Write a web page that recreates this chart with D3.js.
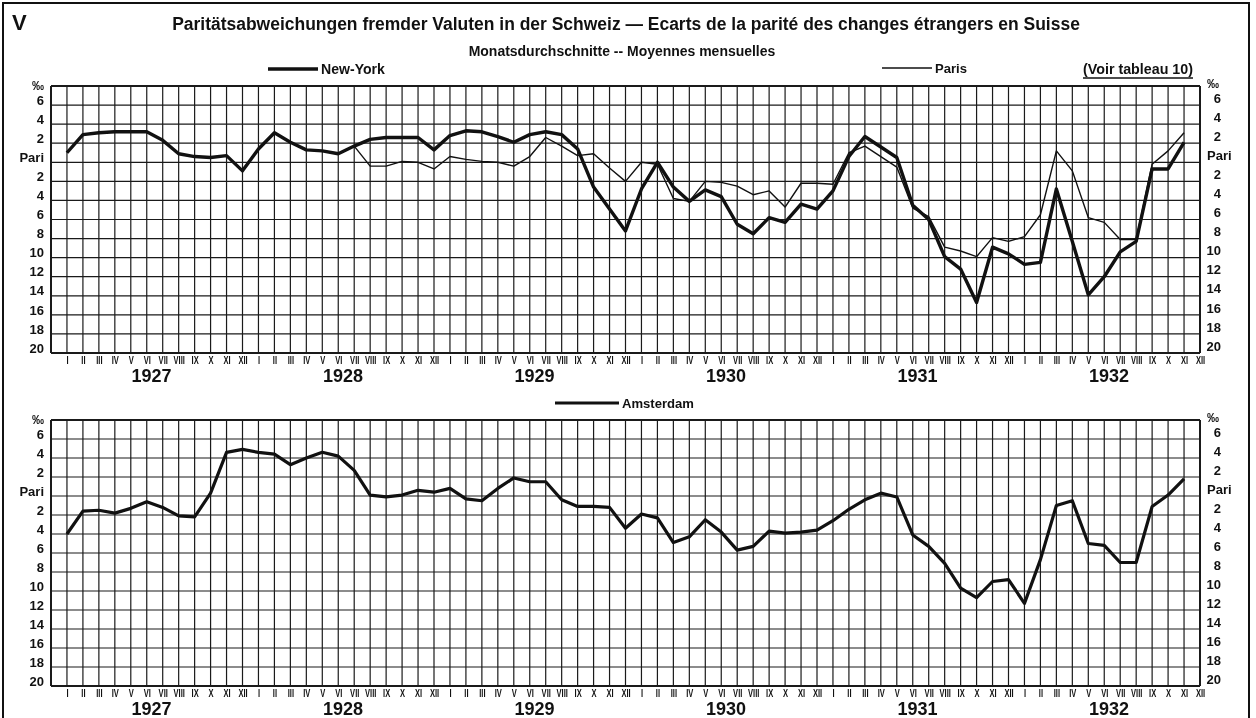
<!DOCTYPE html>
<html>
<head>
<meta charset="utf-8"/>
<script src="https://cdn.jsdelivr.net/npm/d3@7"></script>
<style>
  body { margin: 0; background: #fff; }
  svg { filter: grayscale(100%); }
  text { font-family: "Liberation Sans", Arial, sans-serif; fill: #111; }
</style>
</head>
<body>
<script>
// month / year labels
var months = ["I","II","III","IV","V","VI","VII","VIII","IX","X","XI","XII"];
var years = [1927, 1928, 1929, 1930, 1931, 1932];
// deviation from parity in per mille (above parity positive), monthly I 1927 .. XI 1932
var newYork = [
  1.0, 2.9, 3.1, 3.2, 3.2, 3.2, 2.3, 0.9, 0.6, 0.5, 0.7, -0.9,
  1.4, 3.1, 2.1, 1.3, 1.2, 0.9, 1.7, 2.4, 2.6, 2.6, 2.6, 1.3,
  2.8, 3.3, 3.2, 2.7, 2.1, 2.9, 3.2, 2.9, 1.4, -2.6, -4.9, -7.2,
  -2.8, 0.0, -2.6, -4.1, -2.9, -3.6, -6.5, -7.5, -5.8, -6.3, -4.4, -4.9,
  -3.0, 0.6, 2.7, 1.6, 0.5, -4.5, -6.0, -9.9, -11.2, -14.7, -8.9, -9.6,
  -10.7, -10.5, -2.8, -8.3, -13.9, -12.0, -9.4, -8.3, -0.7, -0.7, 2.1
];
var paris = [
  null, null, null, null, null, null, null, null, null, null, null, null,
  null, null, null, null, null, null, 1.7, -0.4, -0.4, 0.1, 0.0, -0.7,
  0.6, 0.3, 0.1, 0.0, -0.4, 0.6, 2.6, 1.7, 0.7, 0.9, -0.6, -2.0,
  0.0, -0.2, -3.8, -4.1, -2.0, -2.1, -2.5, -3.4, -3.0, -4.7, -2.2, -2.2,
  -2.3, 1.0, 1.7, 0.6, -0.5, -4.8, -5.7, -8.9, -9.3, -9.9, -7.9, -8.3,
  -7.8, -5.5, 1.2, -0.9, -5.8, -6.3, -8.1, -8.1, -0.2, 1.2, 3.1
];
var amsterdam = [
  -4.0, -1.6, -1.5, -1.8, -1.3, -0.6, -1.2, -2.1, -2.2, 0.3, 4.6, 4.9,
  4.6, 4.4, 3.3, 4.0, 4.6, 4.2, 2.7, 0.1, -0.1, 0.1, 0.6, 0.4,
  0.8, -0.3, -0.5, 0.8, 1.9, 1.5, 1.5, -0.4, -1.1, -1.1, -1.2, -3.4,
  -1.9, -2.3, -4.9, -4.3, -2.5, -3.8, -5.7, -5.3, -3.7, -3.9, -3.8, -3.6,
  -2.6, -1.4, -0.4, 0.3, -0.1, -4.1, -5.3, -7.1, -9.7, -10.7, -9.0, -8.8,
  -11.3, -6.7, -1.0, -0.5, -5.0, -5.2, -7.0, -7.0, -1.1, 0.1, 1.8
];
var yTicks = [6, 4, 2, 0, -2, -4, -6, -8, -10, -12, -14, -16, -18, -20];

var W = 1256, H = 718;
var svg = d3.select("body").append("svg").attr("width", W).attr("height", H);

// frame
svg.append("path")
  .attr("d", "M3,720V3H1249V720")
  .attr("fill", "none").attr("stroke", "#111").attr("stroke-width", 2);

function fit(sel, w) {
  var l = sel.node().getComputedTextLength();
  sel.attr("font-size", parseFloat(sel.attr("font-size")) * w / l);
  return sel;
}

svg.append("text").attr("x", 12).attr("y", 30)
  .attr("font-size", 22).attr("font-weight", "bold").text("V");
fit(svg.append("text").attr("x", 626).attr("y", 30).attr("text-anchor", "middle")
  .attr("font-size", 16).attr("font-weight", "bold")
  .text("Paritätsabweichungen fremder Valuten in der Schweiz \u2014 Ecarts de la parité des changes étrangers en Suisse"), 908);
fit(svg.append("text").attr("x", 622).attr("y", 56).attr("text-anchor", "middle")
  .attr("font-size", 12).attr("font-weight", "bold")
  .text("Monatsdurchschnitte -- Moyennes mensuelles"), 307);

var x = d3.scaleLinear().domain([-1, 71]).range([51, 1200]);
var idx = d3.range(73).map(function(i) { return i - 1; });

function legend(x1, x2, y, w, label, tw) {
  svg.append("line").attr("x1", x1).attr("x2", x2).attr("y1", y).attr("y2", y)
    .attr("stroke", "#111").attr("stroke-width", w);
  fit(svg.append("text").attr("x", x2 + 3).attr("y", y + 5)
    .attr("font-size", 12).attr("font-weight", "bold").text(label), tw);
}

function panel(top, bottom, series) {
  var y = d3.scaleLinear().domain([8, -20]).range([top, bottom]);
  var g = svg.append("g");

  // grid
  g.selectAll("line.h").data(d3.range(-20, 9, 2)).enter().append("line")
    .attr("x1", x(-1)).attr("x2", x(71))
    .attr("y1", function(d) { return y(d); }).attr("y2", function(d) { return y(d); })
    .attr("stroke", "#1a1a1a")
    .attr("stroke-width", function(d) { return (d == 8 || d == -20) ? 2 : 1.2; });
  g.selectAll("line.v").data(idx).enter().append("line")
    .attr("x1", function(d) { return x(d); }).attr("x2", function(d) { return x(d); })
    .attr("y1", y(8)).attr("y2", y(-20))
    .attr("stroke", "#1a1a1a")
    .attr("stroke-width", function(d) { return (d == -1 || d == 71) ? 2 : 1.2; });

  // y labels both sides
  var fmt = function(d) { return d == 0 ? "Pari" : Math.abs(d); };
  var left = g.append("g").attr("transform", "translate(44,-5)")
    .call(d3.axisLeft(y).tickValues(yTicks).tickFormat(fmt).tickSize(0).tickPadding(0));
  var right = g.append("g").attr("transform", "translate(1207,-7)")
    .call(d3.axisRight(y).tickValues(yTicks).tickFormat(fmt).tickSize(0).tickPadding(0));
  [left, right].forEach(function(a) {
    a.select(".domain").remove();
    a.selectAll("text").attr("font-size", 13).attr("font-weight", "bold")
      .attr("font-family", "Liberation Sans, Arial, sans-serif").attr("fill", "#111");
  });
  right.selectAll("text").filter(function(d) { return d != 0; })
    .attr("text-anchor", "end").attr("x", 14);
  g.append("text").attr("x", 44).attr("y", y(8) + 4).attr("text-anchor", "end")
    .attr("font-size", 12).attr("font-weight", "bold").text("\u2030");
  g.append("text").attr("x", 1207).attr("y", y(8) + 2)
    .attr("font-size", 12).attr("font-weight", "bold").text("\u2030");

  // month labels
  var mAxis = g.append("g").attr("transform", "translate(0," + (bottom + 3) + ")")
    .call(d3.axisBottom(x).tickValues(d3.range(72))
      .tickFormat(function(d) { return months[d % 12]; }).tickSize(0).tickPadding(0));
  mAxis.select(".domain").remove();
  mAxis.selectAll("text").attr("font-size", 10.5).attr("font-weight", "bold")
    .attr("font-family", "DejaVu Sans Condensed, sans-serif").attr("fill", "#111")
    .attr("transform", "scale(0.72,1)")
    .attr("dy", "0.75em");

  g.selectAll("text.yr").data(years).enter().append("text")
    .attr("x", function(d, i) { return x(i * 12 + 5.3); })
    .attr("y", bottom + 29).attr("text-anchor", "middle")
    .attr("font-size", 18).attr("font-weight", "bold").text(function(d) { return d; });

  // series
  series.forEach(function(s) {
    var line = d3.line()
      .defined(function(d) { return d != null; })
      .x(function(d, i) { return x(i); })
      .y(function(d) { return y(d); });
    g.append("path").datum(s.values).attr("d", line)
      .attr("fill", "none").attr("stroke", "#111")
      .attr("stroke-width", s.w).attr("stroke-linejoin", "round");
  });
}

panel(86, 353, [{ values: paris, w: 1.4 }, { values: newYork, w: 3.4 }]);
panel(420, 686, [{ values: amsterdam, w: 3.2 }]);

legend(268, 318, 69, 3.4, "New-York", 64);
legend(882, 932, 68, 1.4, "Paris", 32);
legend(555, 619, 403, 3.2, "Amsterdam", 72);
fit(svg.append("text").attr("x", 1083).attr("y", 74)
  .attr("font-size", 12).attr("font-weight", "bold").text("(Voir tableau 10)"), 110);
svg.append("line").attr("x1", 1083).attr("x2", 1193).attr("y1", 78).attr("y2", 78)
  .attr("stroke", "#111").attr("stroke-width", 1.3);
</script>
</body>
</html>
